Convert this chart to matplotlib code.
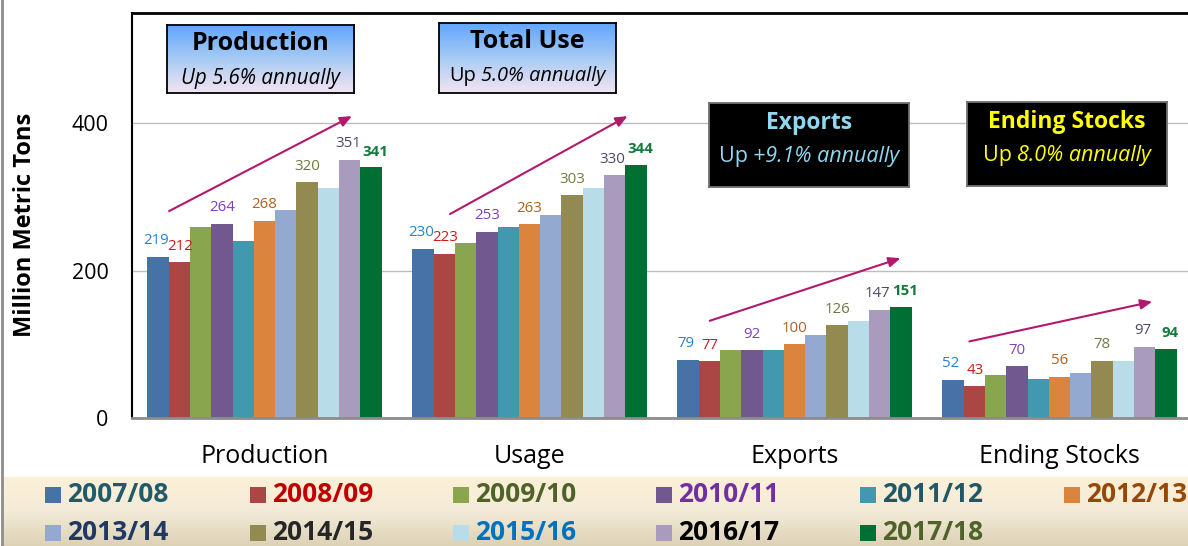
import numpy as np
import matplotlib.pyplot as plt
from matplotlib.patches import Rectangle
from matplotlib.lines import Line2D
from matplotlib.colors import LinearSegmentedColormap
from matplotlib.offsetbox import TextArea, HPacker, AnchoredOffsetbox

plt.rcParams["font.family"] = ["Open Sans", "DejaVu Sans"]

categories = ["Production", "Usage", "Exports", "Ending Stocks"]
years = ["2007/08", "2008/09", "2009/10", "2010/11", "2011/12", "2012/13",
         "2013/14", "2014/15", "2015/16", "2016/17", "2017/18"]

# million metric tons, one list per category, one value per marketing year
production = [219, 212, 260, 264, 240, 268, 282, 320, 313, 351, 341]
usage = [230, 223, 238, 253, 259, 263, 276, 303, 313, 330, 344]
exports = [79, 77, 92, 92, 92, 100, 113, 126, 132, 147, 151]
ending_stocks = [52, 43, 59, 70, 53, 56, 61, 78, 78, 97, 94]

bar_colors = ["#4672A8", "#AA4643", "#89A54E", "#71588F", "#4198AF", "#DB843D",
              "#93A9CF", "#938A52", "#B9DDE8", "#A99BBD", "#006F34"]
# colour of the value labels (None -> that year is not labelled)
value_label_colors = ["#2382D2", "#D01818", None, "#7F3FBF", None, "#B0621E",
                      None, "#6E7A3C", None, "#4A4A68", "#127A3A"]
legend_text_colors = ["#215A6A", "#C00000", "#4F6228", "#7030A0", "#215868", "#974806",
                      "#1F3864", "#262626", "#0070C0", "#000000", "#4F6228"]

box_titles = ["Production", "Total Use", "Exports", "Ending Stocks"]
box_subs = [("", "Up 5.6% annually"), ("Up", "5.0% annually"),
            ("Up", "+9.1% annually"), ("Up", "8.0% annually")]
box_text_colors = ["black", "black", "#8ED8F2", "#FFFF00"]
box_title_sizes = [18, 18, 16.5, 16.5]
box_sub_sizes = [14.8, 14.4, 15.5, 15.5]
box_title_y = [0.735, 0.74, 0.76, 0.76]
box_sub_y = [0.22, 0.24, 0.36, 0.36]
# (left, top, right, bottom) in pixels of the 1188x546 picture
box_px = [(167, 25, 354, 93), (439, 23, 616, 93), (709, 103, 909, 187), (967, 102, 1167, 186)]

# trend arrows in data coordinates: (x0, y0, x1, y1)
trend_arrows = [(-0.36, 281, 0.33, 410), (0.70, 277, 1.37, 410),
                (1.68, 132, 2.40, 217), (2.66, 104, 3.35, 158)]

W, H = 1188, 546


def fx(px):
    return px / W


def fy(py):
    return 1 - py / H


fig = plt.figure(figsize=(W / 100, H / 100), dpi=100)
ax = fig.add_axes([fx(132), fy(418), (1192 - 132) / W, (418 - 13) / H])

values = np.array([production, usage, exports, ending_stocks]).T  # years x categories
x = np.arange(len(categories))
n = len(years)
bw = 0.0805
# small sideways nudges (points) so neighbouring labels do not collide
label_dx = {0: -1.5, 1: 0.5, n - 2: -1.5, n - 1: 3}

for i in range(n):
    xs = x + (i - (n - 1) / 2) * bw
    ax.bar(xs, values[i], bw, color=bar_colors[i], linewidth=0, zorder=2)
    if value_label_colors[i] is None:
        continue
    dx = label_dx.get(i, 0)
    for xi, v in zip(xs, values[i]):
        ax.annotate(str(v), (xi, v), xytext=(dx, 6), textcoords="offset points",
                    ha="center", va="bottom", fontsize=10.8, color=value_label_colors[i],
                    fontweight="bold" if i == n - 1 else "normal", zorder=4)

for x0, y0, x1, y1 in trend_arrows:
    ax.annotate("", xy=(x1, y1), xytext=(x0, y0),
                arrowprops=dict(arrowstyle="-|>,head_length=0.7,head_width=0.3",
                                color="#B3186D", lw=1.5, shrinkA=0, shrinkB=0), zorder=5)

ax.set_xlim(-0.5, 3.5)
ax.set_ylim(0, 550)
ax.set_yticks([0, 200, 400])
ax.set_xticks(x, categories)
ax.tick_params(axis="y", length=0, pad=17, labelsize=15.5)
ax.tick_params(axis="x", length=0, pad=19, labelsize=18)
ax.yaxis.grid(True, color="#BDBDBD", lw=1)
ax.set_axisbelow(True)
ax.spines["right"].set_visible(False)
ax.spines["left"].set_linewidth(1.5)
ax.spines["top"].set_linewidth(2)
ax.spines["bottom"].set_color("#8C8C8C")
ax.spines["bottom"].set_linewidth(2)

fig.text(fx(25), fy(225), "Million Metric Tons", rotation=90, ha="center", va="center",
         fontsize=17, fontweight="bold")

# annotation boxes
blue_cmap = LinearSegmentedColormap.from_list("boxgrad", ["#F3E4F2", "#A6CBF4", "#5FA5FF"])
grad = np.linspace(0, 1, 100).reshape(-1, 1)
for k, (l, t, r, b) in enumerate(box_px):
    bax = fig.add_axes([fx(l), fy(b), (r - l) / W, (b - t) / H])
    bax.set_xticks([])
    bax.set_yticks([])
    if k < 2:
        bax.imshow(grad, cmap=blue_cmap, aspect="auto", extent=[0, 1, 0, 1], origin="lower")
        edge = "black"
    else:
        bax.set_facecolor("black")
        edge = "#707070"
    for s in bax.spines.values():
        s.set_color(edge)
        s.set_linewidth(1.3)
    bax.set_xlim(0, 1)
    bax.set_ylim(0, 1)
    col = box_text_colors[k]
    bax.text(0.5, box_title_y[k], box_titles[k], ha="center", va="center",
             fontsize=box_title_sizes[k], fontweight="bold", color=col)
    upright, italic = box_subs[k]
    parts = []
    if upright:
        parts.append(TextArea(upright, textprops=dict(fontsize=box_sub_sizes[k], color=col)))
    parts.append(TextArea(italic, textprops=dict(fontsize=box_sub_sizes[k], color=col,
                                                  style="italic")))
    pack = HPacker(children=parts, pad=0, sep=4, align="baseline")
    anch = AnchoredOffsetbox(loc="center", child=pack, bbox_to_anchor=(0.5, box_sub_y[k]),
                             bbox_transform=bax.transAxes, frameon=False, pad=0, borderpad=0)
    bax.add_artist(anch)

# legend band at the bottom
band_cmap = LinearSegmentedColormap.from_list("band", ["#DDD2B6", "#F3EBD8", "#FDF0D7"])
lax = fig.add_axes([fx(4), 0, 1 - fx(4), fy(477)])
lax.imshow(grad, cmap=band_cmap, aspect="auto", extent=[0, 1, 0, 1], origin="lower")
lax.axis("off")

col_px = [45, 250, 453, 656, 860, 1064]
row_px = [495, 533]
for i, yr in enumerate(years):
    r, c = divmod(i, 6)
    px, py = col_px[c], row_px[r]
    fig.add_artist(Rectangle((fx(px), fy(py + 8)), 16 / W, 16 / H,
                             transform=fig.transFigure, color=bar_colors[i], lw=0))
    fig.text(fx(px + 22), fy(py), yr, ha="left", va="center", fontsize=19,
             fontweight="bold", color=legend_text_colors[i])

fig.add_artist(Line2D([fx(2), fx(2)], [0, 1], transform=fig.transFigure,
                      color="#8C8C8C", lw=2))

fig.savefig("out.png", dpi=100)
